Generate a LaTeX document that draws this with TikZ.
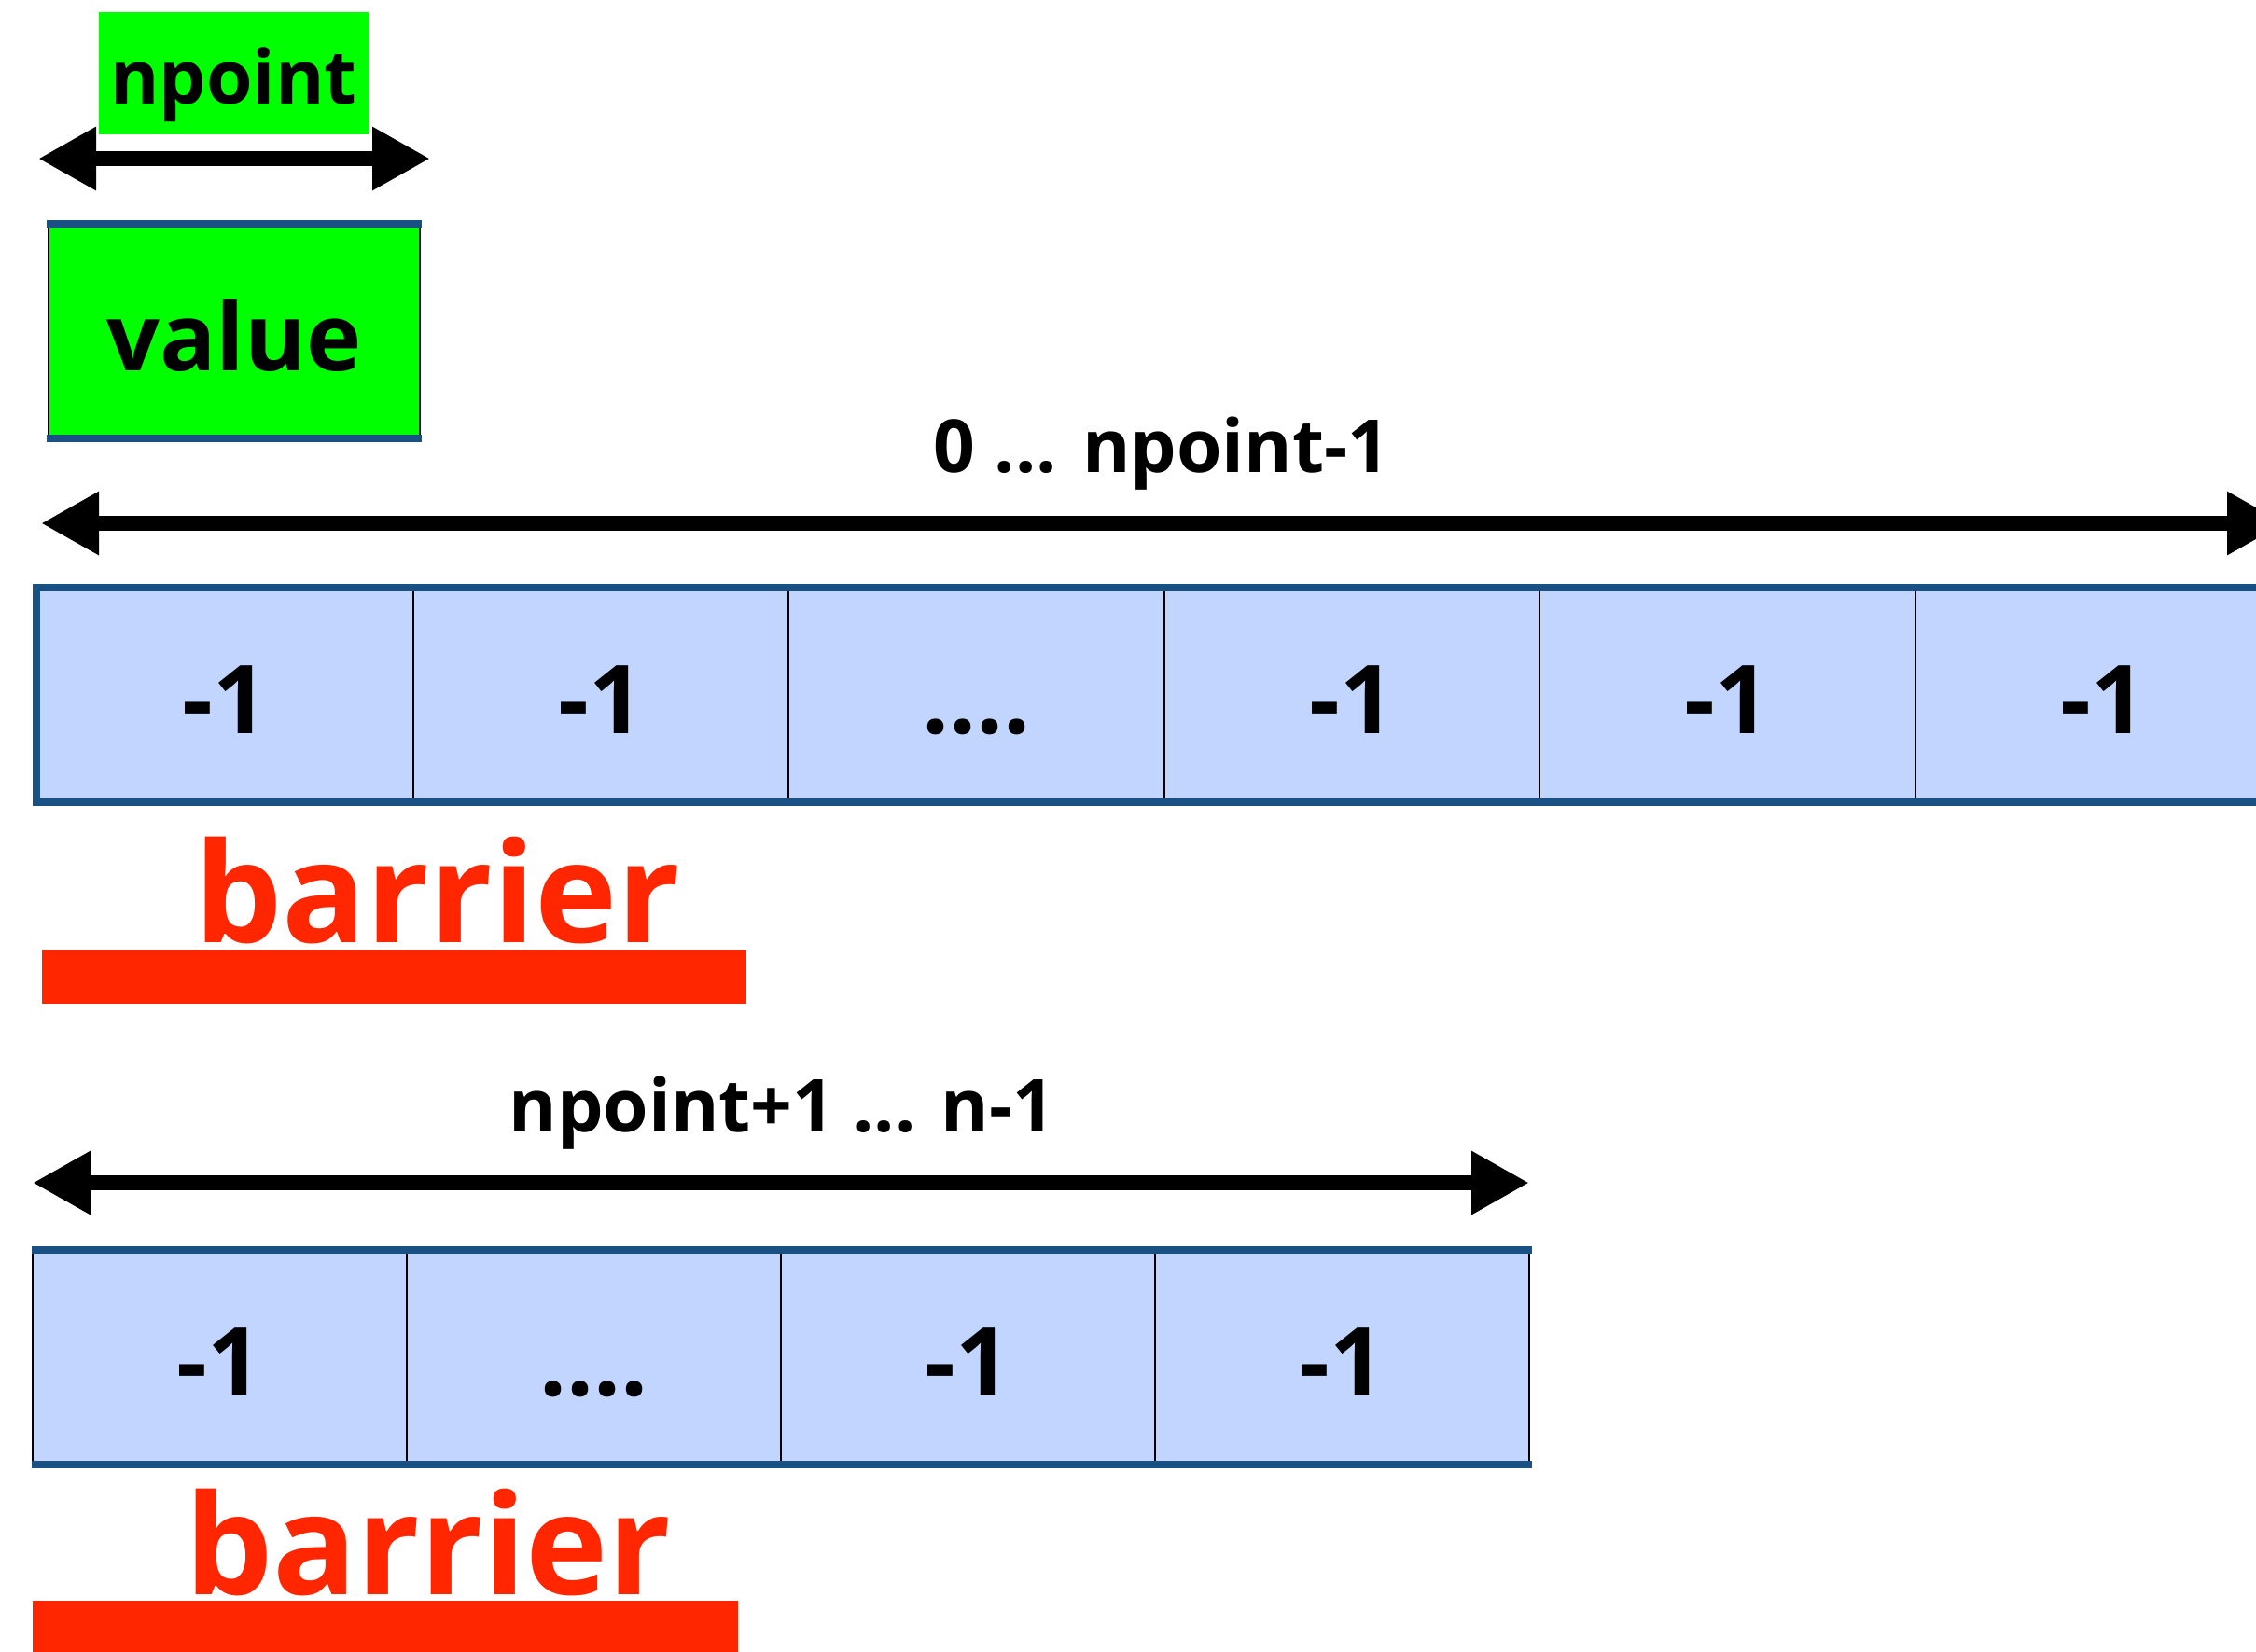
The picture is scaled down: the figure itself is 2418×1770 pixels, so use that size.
\documentclass[tikz,border=0pt]{standalone}
\usepackage{fontspec}
\setmainfont{Open Sans}
\usetikzlibrary{arrows.meta}
\definecolor{cellblue}{HTML}{C2D5FE}
\definecolor{edgeblue}{HTML}{1A5185}
\definecolor{barred}{HTML}{FF2600}
\definecolor{vgreen}{HTML}{00FF00}
\newcommand\myfourdots{....}
\tikzset{
  cellbox/.style={draw=black, line width=0.5pt, fill=cellblue, inner sep=0pt,
    minimum height=57pt, text height=20.5pt, text depth=0pt,
    font=\fontsize{25.5pt}{30pt}\selectfont\bfseries},
  blueedge/.style={draw=edgeblue, line width=2pt},
  dimarrow/.style={line width=4pt, {Triangle[length=15.5pt,width=16pt]}-{Triangle[length=15.5pt,width=16pt]}},
  dimlabel/.style={anchor=base, inner sep=0pt, font=\fontsize{19.6pt}{24pt}\selectfont\bfseries},
  barrierlabel/.style={anchor=base, inner sep=0pt, text=barred, font=\fontsize{37.3pt}{44pt}\selectfont\bfseries},
  barrierbar/.style={fill=barred, inner sep=0pt, minimum height=14.5pt}
}
\begin{document}
\begin{tikzpicture}[x=0.25pt,y=-0.25pt]
\useasboundingbox (0,0) rectangle (2418,1770);
\clip (0,0) rectangle (2418,1770);
\fill[white] (0,0) rectangle (2418,1770);

% npoint box and its arrow
\node[fill=vgreen, inner sep=0pt, minimum width=72.25pt, minimum height=32.75pt,
  text height=16.25pt, text depth=0pt, font=\fontsize{20pt}{24pt}\selectfont\bfseries]
  (npt) at (250.5,78.5) {npoint};
\coordinate (a0l) at (41,170);
\coordinate (a0r) at (461,170);
\draw[dimarrow] (a0l) -- (a0r);

% value box
\node[fill=vgreen, draw=black, line width=0.5pt, inner sep=0pt, minimum width=99.5pt, minimum height=57pt,
  text height=21pt, text depth=0pt, font=\fontsize{25pt}{30pt}\selectfont\bfseries]
  (val) at (251,355) {value};
\draw[blueedge] ([xshift=-0.25pt]val.north west) -- ([xshift=0.25pt]val.north east);
\draw[blueedge] ([xshift=-0.25pt]val.south west) -- ([xshift=0.25pt]val.south east);

% row 1
\node[dimlabel] (lab1) at (1245,506) {0 ... npoint-1};
\coordinate (a1l) at (44,561);
\coordinate (a1r) at (2449,561);
\draw[dimarrow] (a1l) -- (a1r);
\foreach \i/\t in {1/-1,2/-1,3/\myfourdots,4/-1,5/-1,6/-1}{
  \node[cellbox, minimum width=100.625pt] (r1c\i) at ({40+402.5*(\i-0.5)},745) {\t};
}
\draw[blueedge] ([xshift=-1pt]r1c1.north west) -- (r1c6.north east);
\draw[blueedge] ([xshift=-1pt]r1c1.south west) -- (r1c6.south east);
\draw[blueedge] (r1c1.north west) -- (r1c1.south west);
\node[barrierlabel] (bar1t) at (469,1010) {barrier};
\node[barrierbar, minimum width=188.75pt] (bar1) at (422.5,1047) {};

% row 2
\node[dimlabel] (lab2) at (838,1213) {npoint+1 ... n-1};
\coordinate (a2l) at (35,1268);
\coordinate (a2r) at (1639,1268);
\draw[dimarrow] (a2l) -- (a2r);
\foreach \i/\t in {1/-1,2/\myfourdots,3/-1,4/-1}{
  \node[cellbox, minimum width=100.25pt] (r2c\i) at ({35+401*(\i-0.5)},1455) {\t};
}
\draw[blueedge] (r2c1.north west) -- ([xshift=0.5pt]r2c4.north east);
\draw[blueedge] (r2c1.south west) -- ([xshift=0.5pt]r2c4.south east);
\node[barrierlabel] (bar2t) at (459,1709) {barrier};
\node[barrierbar, minimum width=189pt] (bar2) at (413,1745) {};
\end{tikzpicture}
\end{document}
